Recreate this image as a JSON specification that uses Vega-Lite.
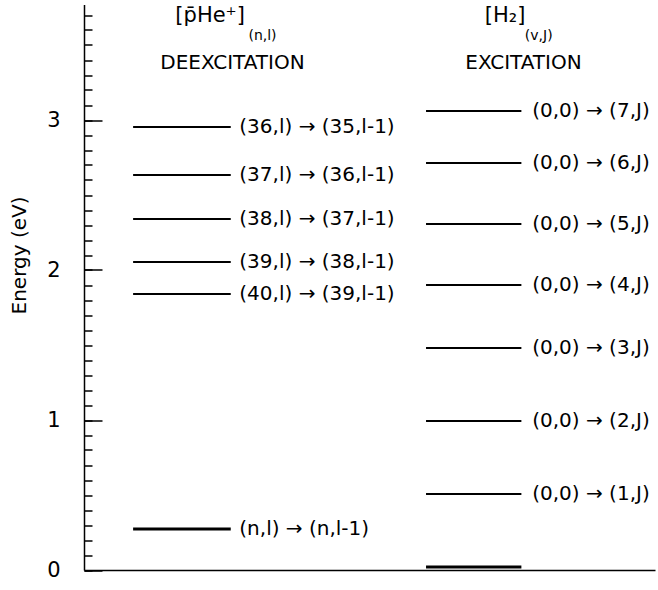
{
  "$schema": "https://vega.github.io/schema/vega-lite/v6.json",
  "width": 571,
  "height": 565.5,
  "autosize": {"type": "none"},
  "padding": {"left": 84, "top": 4.5, "right": 3, "bottom": 20},
  "background": "white",
  "config": {"view": {"stroke": null}, "font": "DejaVu Sans"},
  "resolve": {"axis": {"y": "independent"}},
  "datasets": {
    "pHe": [
      {"energy": 2.953, "label": "(36,l) \u2192 (35,l-1)"},
      {"energy": 2.633, "label": "(37,l) \u2192 (36,l-1)"},
      {"energy": 2.34, "label": "(38,l) \u2192 (37,l-1)"},
      {"energy": 2.053, "label": "(39,l) \u2192 (38,l-1)"},
      {"energy": 1.84, "label": "(40,l) \u2192 (39,l-1)"},
      {"energy": 0.273, "label": "(n,l) \u2192 (n,l-1)"}
    ],
    "H2": [
      {"energy": 3.06, "label": "(0,0) \u2192 (7,J)"},
      {"energy": 2.713, "label": "(0,0) \u2192 (6,J)"},
      {"energy": 2.307, "label": "(0,0) \u2192 (5,J)"},
      {"energy": 1.9, "label": "(0,0) \u2192 (4,J)"},
      {"energy": 1.48, "label": "(0,0) \u2192 (3,J)"},
      {"energy": 0.993, "label": "(0,0) \u2192 (2,J)"},
      {"energy": 0.507, "label": "(0,0) \u2192 (1,J)"},
      {"energy": 0.02, "label": ""}
    ]
  },
  "layer": [
    {
      "data": {"name": "pHe"},
      "mark": {"type": "rule", "color": "black"},
      "encoding": {
        "x": {
          "datum": 8.6,
          "type": "quantitative",
          "scale": {"domain": [0, 100], "nice": false, "zero": false},
          "axis": {"title": null, "labels": false, "ticks": false, "grid": false, "domain": true, "domainColor": "black", "domainWidth": 1.5}
        },
        "x2": {"datum": 25.7},
        "y": {
          "field": "energy",
          "type": "quantitative",
          "scale": {"domain": [0, 3.77], "nice": false, "zero": false},
          "axis": {
            "orient": "left",
            "title": "Energy (eV)",
            "titleFont": "DejaVu Sans",
            "titleFontSize": 20,
            "titleFontWeight": "normal",
            "titleColor": "black",
            "titleAngle": -90,
            "titleX": -59,
            "titleY": 250.5,
            "titleAlign": "center",
            "titleBaseline": "alphabetic",
            "values": [0, 1, 2, 3],
            "format": "d",
            "labelFont": "DejaVu Sans",
            "labelFontSize": 21,
            "labelColor": "black",
            "labelPadding": 24,
            "labelOverlap": false,
            "labelFlush": false,
            "labelBound": false,
            "ticks": false,
            "domainColor": "black",
            "domainWidth": 1.5,
            "grid": false
          }
        },
        "strokeWidth": {"condition": {"test": "datum.energy < 0.5", "value": 3}, "value": 2}
      }
    },
    {
      "data": {"name": "pHe"},
      "mark": {"type": "text", "align": "left", "baseline": "middle", "font": "DejaVu Sans", "fontSize": 20, "color": "black"},
      "encoding": {
        "x": {"datum": 27.2, "type": "quantitative"},
        "y": {
          "field": "energy",
          "type": "quantitative",
          "axis": {
            "orient": "right",
            "offset": -571,
            "title": null,
            "values": [0, 1, 2, 3],
            "labels": false,
            "domain": false,
            "grid": false,
            "ticks": true,
            "tickSize": 18,
            "tickWidth": 1.5,
            "tickColor": "black"
          }
        },
        "text": {"field": "label"}
      }
    },
    {
      "data": {"name": "H2"},
      "mark": {"type": "rule", "color": "black"},
      "encoding": {
        "x": {"datum": 59.9, "type": "quantitative"},
        "x2": {"datum": 76.6},
        "y": {
          "field": "energy",
          "type": "quantitative",
          "axis": {
            "orient": "right",
            "offset": -571,
            "title": null,
            "values": [0, 0.1, 0.2, 0.3, 0.4, 0.5, 0.6, 0.7, 0.8, 0.9, 1, 1.1, 1.2, 1.3, 1.4, 1.5, 1.6, 1.7, 1.8, 1.9, 2, 2.1, 2.2, 2.3, 2.4, 2.5, 2.6, 2.7, 2.8, 2.9, 3, 3.1, 3.2, 3.3, 3.4, 3.5, 3.6, 3.7],
            "labels": false,
            "domain": false,
            "grid": false,
            "ticks": true,
            "tickSize": 8,
            "tickWidth": 1.5,
            "tickColor": "black"
          }
        },
        "strokeWidth": {"condition": {"test": "datum.energy < 0.1", "value": 3}, "value": 2}
      }
    },
    {
      "data": {"name": "H2"},
      "mark": {"type": "text", "align": "left", "baseline": "middle", "font": "DejaVu Sans", "fontSize": 20, "color": "black"},
      "encoding": {
        "x": {"datum": 78.5, "type": "quantitative"},
        "y": {"field": "energy", "type": "quantitative", "axis": null},
        "text": {"field": "label"}
      }
    },
    {
      "data": {"values": [{"t": "[p\u0304He\u207a]"}]},
      "mark": {"type": "text", "align": "left", "baseline": "middle", "font": "DejaVu Sans", "fontSize": 21, "color": "black"},
      "encoding": {
        "x": {"datum": 16.0, "type": "quantitative"},
        "y": {"datum": 3.693, "type": "quantitative", "axis": null},
        "text": {"field": "t"}
      }
    },
    {
      "data": {"values": [{"t": "(n,l)"}]},
      "mark": {"type": "text", "align": "left", "baseline": "middle", "font": "DejaVu Sans", "fontSize": 14, "color": "black"},
      "encoding": {
        "x": {"datum": 28.8, "type": "quantitative"},
        "y": {"datum": 3.56, "type": "quantitative", "axis": null},
        "text": {"field": "t"}
      }
    },
    {
      "data": {"values": [{"t": "DEEXCITATION"}]},
      "mark": {"type": "text", "align": "center", "baseline": "middle", "font": "DejaVu Sans", "fontSize": 20, "color": "black"},
      "encoding": {
        "x": {"datum": 26.0, "type": "quantitative"},
        "y": {"datum": 3.377, "type": "quantitative", "axis": null},
        "text": {"field": "t"}
      }
    },
    {
      "data": {"values": [{"t": "[H\u2082]"}]},
      "mark": {"type": "text", "align": "left", "baseline": "middle", "font": "DejaVu Sans", "fontSize": 21, "color": "black"},
      "encoding": {
        "x": {"datum": 70.2, "type": "quantitative"},
        "y": {"datum": 3.693, "type": "quantitative", "axis": null},
        "text": {"field": "t"}
      }
    },
    {
      "data": {"values": [{"t": "(v,J)"}]},
      "mark": {"type": "text", "align": "left", "baseline": "middle", "font": "DejaVu Sans", "fontSize": 14, "color": "black"},
      "encoding": {
        "x": {"datum": 77.2, "type": "quantitative"},
        "y": {"datum": 3.56, "type": "quantitative", "axis": null},
        "text": {"field": "t"}
      }
    },
    {
      "data": {"values": [{"t": "EXCITATION"}]},
      "mark": {"type": "text", "align": "center", "baseline": "middle", "font": "DejaVu Sans", "fontSize": 20, "color": "black"},
      "encoding": {
        "x": {"datum": 76.97, "type": "quantitative"},
        "y": {"datum": 3.377, "type": "quantitative", "axis": null},
        "text": {"field": "t"}
      }
    }
  ]
}
